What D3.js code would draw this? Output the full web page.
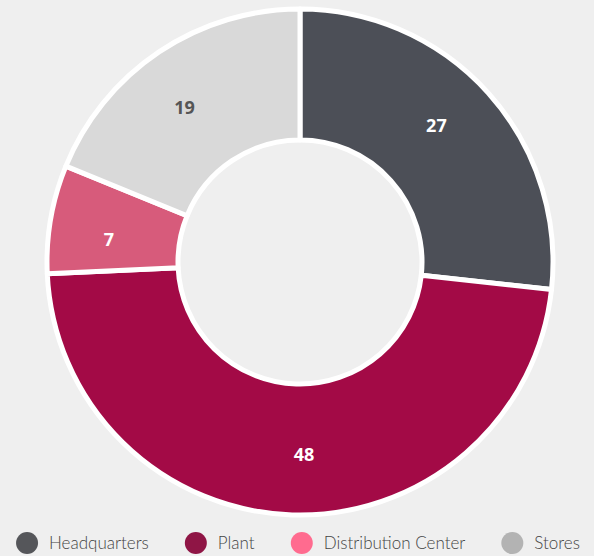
<!DOCTYPE html>
<meta charset="utf-8">
<script src="https://d3js.org/d3.v7.min.js"></script>
<style>
  body { margin: 0; background: #efefef; }
</style>
<body>
<div id="chart"></div>
<script>
var categories = ["Headquarters", "Plant", "Distribution Center", "Stores"]
var values = [27, 48, 7, 19]
var sliceColors = ["#4c4f57", "#a30a46", "#d75b7b", "#d9d9d9"]
var legendColors = ["#55565a", "#8f1545", "#ff6b8f", "#b3b3b3"]
var labelColors = ["#ffffff", "#ffffff", "#ffffff", "#555555"]

var width = 594, height = 556
var cx = 300, cy = 262
var outer = 253, inner = 122

var svg = d3.select("#chart").append("svg")
    .attr("width", width)
    .attr("height", height)

svg.append("rect").attr("width", width).attr("height", height).attr("fill", "#efefef")

var g = svg.append("g").attr("transform", "translate(" + cx + "," + cy + ")")

var data = categories.map(function(c, i) { return {name: c, value: values[i], i: i} })

var pie = d3.pie().sort(null).value(function(d) { return d.value })
var arcs = pie(data)

var arc = d3.arc().innerRadius(inner).outerRadius(outer)
var labelArc = d3.arc().innerRadius(150).outerRadius(235)
var shift = -3 * Math.PI / 180

g.selectAll("path.slice")
    .data(arcs)
    .enter().append("path")
    .attr("class", "slice")
    .attr("d", arc)
    .attr("fill", function(d) { return sliceColors[d.data.i] })
    .attr("stroke", "#ffffff")
    .attr("stroke-width", 5)
    .attr("stroke-linejoin", "round")

g.selectAll("text.val")
    .data(arcs)
    .enter().append("text")
    .attr("class", "val")
    .attr("transform", function(d) {
        var c = labelArc.centroid({startAngle: d.startAngle + shift, endAngle: d.endAngle + shift})
        return "translate(" + c + ")"
    })
    .attr("text-anchor", "middle")
    .attr("dy", "0.35em")
    .style("font-family", "Open Sans, sans-serif")
    .style("font-weight", "bold")
    .style("font-size", "18px")
    .attr("fill", function(d) { return labelColors[d.data.i] })
    .text(function(d) { return d.data.value })

// legend
var legend = svg.append("g").attr("transform", "translate(0,543)")
var items = legend.selectAll("g.item")
    .data(data)
    .enter().append("g")
    .attr("class", "item")

items.append("circle")
    .attr("r", 11)
    .attr("cx", 11)
    .attr("fill", function(d) { return legendColors[d.i] })

items.append("text")
    .attr("x", 33)
    .attr("dy", "0.35em")
    .style("font-family", "Lato, sans-serif")
    .style("font-weight", 300)
    .style("font-size", "17px")
    .attr("fill", "#444")
    .text(function(d) { return d.name })

var gap = 36, xs = [], total = 0
items.each(function() {
    var w = this.getBBox().width
    xs.push(total)
    total += w + gap
})
total -= gap
var start = 298 - total / 2
items.attr("transform", function(d, i) { return "translate(" + (start + xs[i]) + ",0)" })
</script>
</body>
